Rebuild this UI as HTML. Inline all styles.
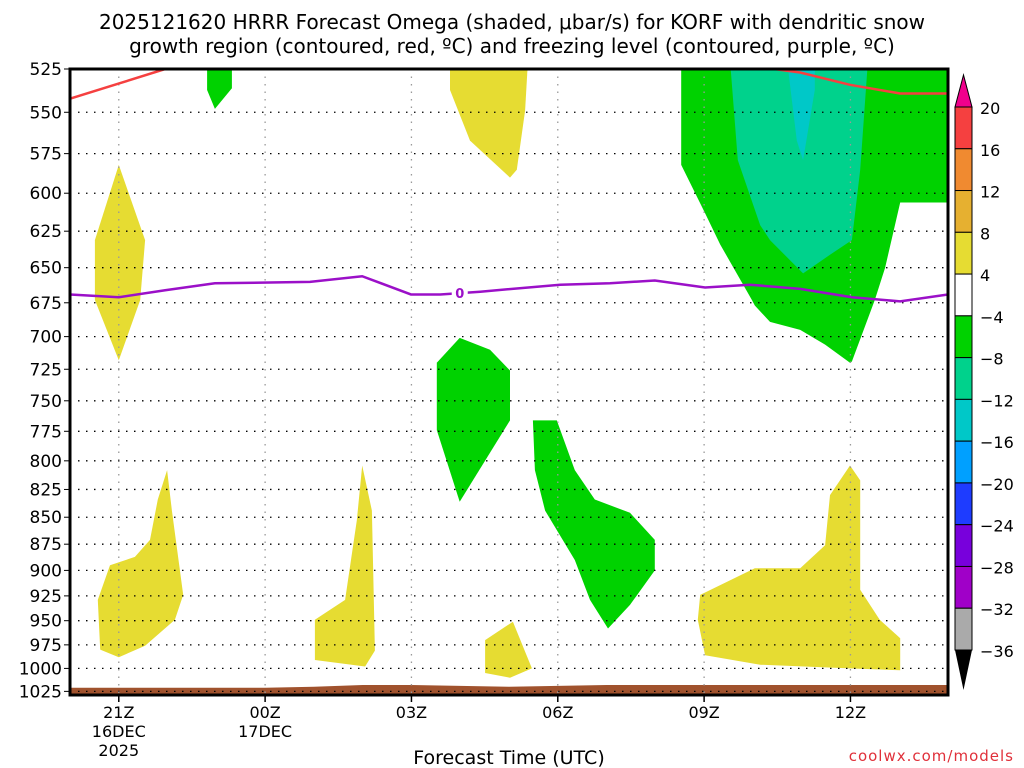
<!DOCTYPE html>
<html><head><meta charset="utf-8"><style>
body{margin:0;background:#fff}
svg{display:block;font-family:"DejaVu Sans","Liberation Sans",sans-serif}
</style></head><body>
<svg id="chart" width="1024" height="768" viewBox="0 0 1024 768" xmlns="http://www.w3.org/2000/svg">
<text x="512" y="29" text-anchor="middle" font-size="20">2025121620 HRRR Forecast Omega (shaded, μbar/s) for KORF with dendritic snow</text>
<text x="512" y="53" text-anchor="middle" font-size="20">growth region (contoured, red, ºC) and freezing level (contoured, purple, ºC)</text>
<defs><clipPath id="plotclip"><rect x="70" y="69" width="878" height="626"/></clipPath></defs>
<g id="shades" clip-path="url(#plotclip)"></g>
<g id="grid"></g>
<g id="lines" clip-path="url(#plotclip)"></g>
<rect x="70" y="69" width="878" height="626" fill="none" stroke="#000" stroke-width="3"/>
<g id="axes"></g>
<g id="cbar"></g>
<text x="509" y="764" text-anchor="middle" font-size="19">Forecast Time (UTC)</text>
<text x="1014" y="761" text-anchor="end" font-size="15" fill="#e0303a" letter-spacing="1">coolwx.com/models</text>
</svg>
<script>
const pressureLevels=[525,550,575,600,625,650,675,700,725,750,775,800,825,850,875,900,925,950,975,1000,1025];
const timeTickHours=[1,4,7,10,13,16];
const timeTickLabels=[["21Z","16DEC","2025"],["00Z","17DEC"],["03Z"],["06Z"],["09Z"],["12Z"]];
const cbarLabels=[20,16,12,8,4,-4,-8,-12,-16,-20,-24,-28,-32,-36];
const cbarColors=["#f54040","#f08a30","#e6b030","#e6dc32","#ffffff","#00d200","#00d28c","#00c8c8","#00a0ff","#1e3cff","#7800dc","#a000c8","#aaaaaa"];
// shaded regions: [hour, pressure] pairs
const greenBig=[[12.53,524],[12.53,582],[13.02,613],[13.33,634],[13.98,673],[14.04,677],[14.35,689],[14.97,695],[15.48,706],[15.99,720],[16.03,719],[16.5,673],[16.71,650],[17.02,606],[18,606],[18,520],[12.53,520]];
const tealTop=[[13.53,520],[13.69,579],[14.15,621],[14.35,631],[15.03,654],[15.58,641],[16.03,631],[16.2,585],[16.36,520]];
const cyanTop=[[14.7,520],[14.9,567],[15.03,579],[15.27,537],[15.27,520]];
const greenTopSmall=[[2.81,520],[3.32,520],[3.32,536],[2.97,548],[2.81,537]];
const greenMid=[[7.52,720],[7.99,701],[8.61,710],[9.02,726],[9.02,766],[7.99,836],[7.52,774]];
const greenLow=[[9.43,766],[9.98,766],[10.35,808],[10.76,834],[11.48,846],[11.99,871],[11.99,900],[11.48,934],[11.03,958],[10.66,929],[10.35,890],[9.74,844],[9.53,808],[9.49,766]];
const yellowLeftMid=[[1.0,582],[1.54,631],[1.44,673],[1.0,718],[0.51,673],[0.51,631]];
const yellowTopMid=[[7.79,520],[9.39,520],[9.33,549],[9.16,585],[9.02,590],[8.2,567],[7.79,537]];
const yellowLowLeft=[[1.99,808],[2.09,844],[2.32,924],[2.15,949],[1.54,976],[1.0,988],[0.62,980],[0.57,929],[0.82,895],[1.33,887],[1.64,871],[1.8,834]];
const yellowLowMid=[[5.02,949],[5.64,929],[5.88,853],[5.99,804],[6.19,844],[6.25,981],[6.05,998],[5.02,991]];
const yellowSmall=[[8.51,970],[9.08,951],[9.47,1000],[9.02,1010],[8.51,1005]];
const yellowLowRight=[[12.92,924],[14.04,898],[14.97,898],[15.48,876],[15.58,830],[15.99,804],[16.2,817],[16.2,919],[16.6,949],[17.02,968],[17.02,1002],[15.99,1000],[14.15,996],[13.02,986],[12.87,949]];
const terrainPressure=[1021,1021,1021,1021,1021,1020,1018,1018,1019,1020,1019,1018,1018,1018,1018,1018,1018,1018,1018];
// contour lines
const freezingLevelHours=[0,1,1.95,2.97,4.92,5.99,6.99,7.59,8.41,10.05,11.07,11.99,13.02,13.94,14.97,16.03,17.02,18];
const freezingLevelP=[669,671,666,661,660,656,669,669,667,662,661,659,664,662,665,671,674,669];
const dgzHours=[0,1.03,1.95,2.36,13.9,14.97,15.99,17.02,18];
const dgzP=[542,533,525,523,523,527,534,539,539];
const NS="http://www.w3.org/2000/svg";
const X0=70,X1=948,Y0=69,Y1=695,P0=525,P1=1029,H1=18;
function xs(h){return X0+(X1-X0)*h/H1;}
function ys(p){return Y0+(Y1-Y0)*Math.log(p/P0)/Math.log(P1/P0);}
function mk(tag,attrs,parent){const e=document.createElementNS(NS,tag);for(const k in attrs)e.setAttribute(k,attrs[k]);parent.appendChild(e);return e;}
const shades=document.getElementById('shades');
function poly(pts,fill,name){const e=mk('polygon',{points:pts.map(q=>xs(q[0]).toFixed(1)+','+ys(q[1]).toFixed(1)).join(' '),fill:fill},shades);

}
poly(greenBig,"#00d200","omega-neg4-region-east");
poly(tealTop,"#00d28c","omega-neg8-region");
poly(cyanTop,"#00c8c8","omega-neg12-region");
poly(greenTopSmall,"#00d200","omega-neg4-region-top");
poly(greenMid,"#00d200","omega-neg4-region-mid");
poly(greenLow,"#00d200","omega-neg4-region-low");
[yellowLeftMid,yellowTopMid,yellowLowLeft,yellowLowMid,yellowSmall,yellowLowRight].forEach((a,i)=>poly(a,"#e6dc32","omega-pos4-region-"+(i+1)));
const tp=terrainPressure.map((p,i)=>[i,p]);tp.push([18,1040],[0,1040]);
poly(tp,"#a0522d","terrain");
const grid=document.getElementById('grid');
pressureLevels.forEach(p=>{const l=mk('line',{x1:X0,x2:X1,y1:ys(p),y2:ys(p),stroke:'#000','stroke-width':1.3,'stroke-dasharray':'1.5 6.5'},grid);

});
timeTickHours.forEach(h=>{const l=mk('line',{x1:xs(h),x2:xs(h),y1:Y0,y2:Y1,stroke:'#999','stroke-width':1.3,'stroke-dasharray':'1.5 6'},grid);

});
const lines=document.getElementById('lines');
const fl=mk('polyline',{points:freezingLevelHours.map((h,i)=>xs(h)+','+ys(freezingLevelP[i])).join(' '),fill:'none',stroke:'#9b10c8','stroke-width':2.5},lines);


const lb=mk('rect',{x:xs(7.99)-8,y:ys(668)-8,width:16,height:16,fill:'#fff'},lines);


const lt=mk('text',{x:xs(7.99),y:ys(668)+5,'text-anchor':'middle','font-size':13,'font-weight':'bold',fill:'#9b10c8'},lines);lt.textContent='0';


const dg=mk('polyline',{points:dgzHours.map((h,i)=>xs(h)+','+ys(dgzP[i])).join(' '),fill:'none',stroke:'#f54040','stroke-width':2.5},lines);


const axes=document.getElementById('axes');
pressureLevels.forEach(p=>{const y=ys(p);mk('line',{x1:X0-6,x2:X0,y1:y,y2:y,stroke:'#000','stroke-width':1},axes);
const t=mk('text',{x:X0-8,y:y+6,'text-anchor':'end','font-size':17},axes);t.textContent=p;

});
timeTickHours.forEach((h,i)=>{const x=xs(h);mk('line',{x1:x,x2:x,y1:Y1,y2:Y1+7,stroke:'#000','stroke-width':1.5},axes);
timeTickLabels[i].forEach((s,j)=>{const t=mk('text',{x:x,y:718+j*19,'text-anchor':'middle','font-size':16},axes);t.textContent=s;

});});
const cb=document.getElementById('cbar');
const CX=955,CW=17,CT=107,CH=(650-107)/cbarColors.length;
mk('polygon',{points:`${CX},${CT} ${CX+CW},${CT} ${CX+CW/2},75`,fill:'#f0008c',stroke:'#000','stroke-width':1},cb);
cbarColors.forEach((c,i)=>{const r=mk('rect',{x:CX,y:CT+i*CH,width:CW,height:CH,fill:c,stroke:'#000','stroke-width':1},cb);

});
mk('polygon',{points:`${CX},650 ${CX+CW},650 ${CX+CW/2},690`,fill:'#000'},cb);
cbarLabels.forEach((v,i)=>{const t=mk('text',{x:980,y:CT+i*CH+7,'font-size':16},cb);t.textContent=v<0?'\u2212'+(-v):v;

});
</script>
</body></html>
